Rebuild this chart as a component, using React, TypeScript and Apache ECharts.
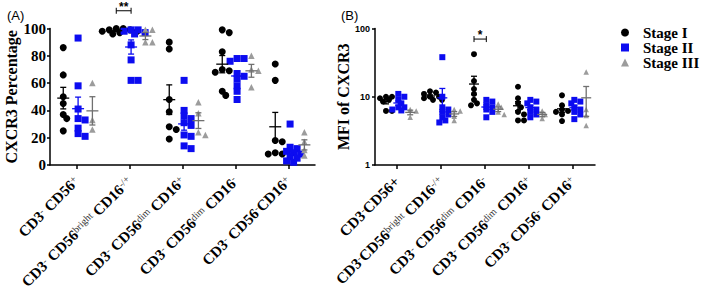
import React, { useEffect, useRef } from 'react';
import * as echarts from 'echarts';

// ---------- Data ----------
const STAGES = ['Stage I', 'Stage II', 'Stage III'];

const categoriesA = [
  'CD3{s|-} CD56{s|+}',
  'CD3{s|-} CD56{s|bright} CD16{s|-/+}',
  'CD3{s|-} CD56{s|dim} CD16{s|+}',
  'CD3{s|-} CD56{s|dim} CD16{s|-}',
  'CD3{s|-} CD56{s|-}CD16{s|+}',
];
const categoriesB = [
  'CD3{s|-}CD56+',
  'CD3{s|-}CD56{s|bright} CD16{s|-/+}',
  'CD3{s|-} CD56{s|dim} CD16{s|-}',
  'CD3{s|-} CD56{s|dim} CD16{s|+}',
  'CD3{s|-} CD56{s|-} CD16{s|+}',
];

// Panel A: CXCR3 percentage
const pctStageI = [
  [86, 66, 50, 45, 37, 34, 25],
  [100, 100, 99, 99, 98, 98, 97, 96],
  [90, 85, 48, 39, 28, 26, 19],
  [99, 97, 83, 70, 69, 68, 54, 51],
  [74, 62, 18, 17, 9, 8, 8],
];
const pctStageII = [
  [93, 58, 41, 34, 33, 27, 23, 21],
  [99, 99, 98, 97, 96, 88, 77, 62, 62],
  [62, 40, 36, 34, 31, 29, 22, 21, 14, 12],
  [78, 78, 76, 67, 65, 63, 58, 54, 48],
  [30, 13, 12, 10, 9, 8, 6, 5, 3, 2],
];
const pctStageIII = [
  [60, 33, 26],
  [99, 99, 90, 90],
  [46, 38, 24, 22],
  [80, 70, 69, 57],
  [24, 17, 11, 7],
];

// Panel B: MFI of CXCR3
const mfiStageI = [
  [10, 10, 9.5, 9, 8.5, 6.2, 6.2],
  [12, 11.5, 11, 10, 10, 9.5, 9, 9],
  [42, 17, 13, 11, 9, 8, 7.5],
  [14, 9.5, 8, 7, 6, 5.5, 4.5, 4.5],
  [10.5, 7.5, 6.5, 6.2, 6, 5.5, 4.4],
];
const mfiStageII = [
  [11, 10, 9, 8, 7, 7, 6.5, 6.3],
  [38, 10, 7, 6.5, 6, 5.5, 5, 4.5, 4.2],
  [9, 8.5, 7.5, 7, 6.5, 6, 5],
  [9, 8.5, 8, 7, 6.5, 6, 5.5, 5],
  [9, 8.5, 8, 7, 6.5, 6, 5.5, 4.7],
];
const mfiStageIII = [
  [6.5, 6.2, 5.0],
  [6.5, 6.2, 5.2, 4.5],
  [7.8, 7, 6, 5.5],
  [6.2, 5.5, 4.8],
  [23, 6.5, 5.3, 3.8],
];

const yTicksA = [0, 20, 40, 60, 80, 100];
const yTicksB = [1, 10, 100];

// significance brackets: category, from stage, to stage, level (axis value), text
const sigA = [{ cat: 1, from: 0, to: 1, level: 113, text: '**' }];
const sigB = [{ cat: 2, from: 0, to: 1, level: 70, text: '*' }];

// ---------- Style ----------
const COLORS = ['#000000', '#0c0cf0', '#9c9c9c'];
const BAR_COLORS = ['#000000', '#0c0cf0', '#707070'];
const SYMBOLS = ['circle', 'rect', 'triangle'];
const GROUP_OFFSET = [-0.25, 0.03, 0.3];
const SERIF = 'Liberation Serif';

function mean(a: number[]) {
  return a.reduce((s, v) => s + v, 0) / a.length;
}
function sem(a: number[]) {
  const m = mean(a);
  const v = a.reduce((s, x) => s + (x - m) * (x - m), 0) / (a.length - 1);
  return Math.sqrt(v) / Math.sqrt(a.length);
}

// simple beeswarm: horizontal offsets (axis units) so that markers do not pile up
function swarm(values: number[], toPx: (v: number) => number, pxPerUnit: number, diam: number) {
  const order = values.map((_, i) => i).sort((a, b) => values[b] - values[a]);
  const placed: { x: number; y: number }[] = [];
  const out = new Array(values.length).fill(0);
  const step = diam * 0.5;
  for (const i of order) {
    const y = toPx(values[i]);
    let chosen = 0;
    for (let k = 0; k < 30; k++) {
      const cand = k === 0 ? 0 : (k % 2 === 1 ? 1 : -1) * Math.ceil(k / 2) * step;
      if (placed.every((p) => Math.hypot(p.x - cand, p.y - y) >= diam * 0.7)) {
        chosen = cand;
        break;
      }
    }
    placed.push({ x: chosen, y });
    out[i] = chosen / pxPerUnit;
  }
  return out;
}

function buildPanel(opts: {
  gi: number;
  stages: number[][][];
  toPx: (v: number) => number;
  pxPerUnit: number;
  diam: number;
  meanHalf: number;
  capHalf: number;
  floor: number;
  sig: { cat: number; from: number; to: number; level: number; text: string }[];
}) {
  const series: any[] = [];
  const xIdx = opts.gi * 2;
  const yIdx = opts.gi;
  opts.stages.forEach((groups, s) => {
    const data: number[][] = [];
    groups.forEach((vals, k) => {
      const jit = swarm(vals, opts.toPx, opts.pxPerUnit, opts.diam);
      vals.forEach((v, i) => data.push([k + 0.5 + GROUP_OFFSET[s] + jit[i], v]));
    });
    series.push({
      type: 'scatter',
      name: STAGES[s],
      xAxisIndex: xIdx,
      yAxisIndex: yIdx,
      symbol: SYMBOLS[s],
      symbolSize: s === 2 ? opts.diam - 0.5 : opts.diam,
      itemStyle: { color: COLORS[s], opacity: 1 },
      data,
      z: 2,
    });
  });
  const stats: number[][] = [];
  opts.stages.forEach((groups, s) => {
    groups.forEach((vals, k) => {
      stats.push([k + 0.5 + GROUP_OFFSET[s], mean(vals), sem(vals), s]);
    });
  });
  series.push({
    type: 'custom',
    xAxisIndex: xIdx,
    yAxisIndex: yIdx,
    encode: { x: 0, y: 1 },
    clip: false,
    z: 3,
    silent: true,
    data: stats,
    renderItem: (_p: any, api: any) => {
      const x = api.value(0);
      const m = api.value(1);
      const se = api.value(2);
      const s = api.value(3);
      const c = api.coord([x, m]);
      const top = api.coord([x, m + se]);
      const bot = api.coord([x, Math.max(m - se, opts.floor)]);
      const style = { stroke: BAR_COLORS[s], lineWidth: 1.3 };
      const hw = opts.meanHalf;
      const cw = opts.capHalf;
      return {
        type: 'group',
        children: [
          { type: 'line', shape: { x1: c[0] - hw, y1: c[1], x2: c[0] + hw, y2: c[1] }, style },
          { type: 'line', shape: { x1: c[0], y1: top[1], x2: c[0], y2: bot[1] }, style },
          { type: 'line', shape: { x1: c[0] - cw, y1: top[1], x2: c[0] + cw, y2: top[1] }, style },
          { type: 'line', shape: { x1: c[0] - cw, y1: bot[1], x2: c[0] + cw, y2: bot[1] }, style },
        ],
      };
    },
  });
  series.push({
    type: 'custom',
    xAxisIndex: xIdx,
    yAxisIndex: yIdx,
    encode: { x: 0, y: 2 },
    clip: false,
    silent: true,
    z: 3,
    data: opts.sig.map((b) => [b.cat + 0.5 + GROUP_OFFSET[b.from], b.cat + 0.5 + GROUP_OFFSET[b.to], b.level]),
    renderItem: (p: any, api: any) => {
      const a = api.coord([api.value(0), api.value(2)]);
      const b = api.coord([api.value(1), api.value(2)]);
      const style = { stroke: '#000', lineWidth: 1 };
      return {
        type: 'group',
        children: [
          { type: 'line', shape: { x1: a[0], y1: a[1], x2: b[0], y2: b[1] }, style },
          { type: 'line', shape: { x1: a[0], y1: a[1] - 3, x2: a[0], y2: a[1] + 3 }, style },
          { type: 'line', shape: { x1: b[0], y1: b[1] - 3, x2: b[0], y2: b[1] + 3 }, style },
          {
            type: 'text',
            x: (a[0] + b[0]) / 2,
            y: a[1] - 4,
            style: {
              text: opts.sig[p.dataIndex].text,
              align: 'center',
              verticalAlign: 'middle',
              font: 'bold 12px "Liberation Sans"',
              fill: '#000',
            },
          },
        ],
      };
    },
  });
  return series;
}

const catAxisLabel = {
  rotate: 45,
  interval: 0,
  margin: 14,
  color: '#000',
  fontFamily: SERIF,
  fontWeight: 'bold' as const,
  fontSize: 15,
  rich: {
    s: {
      fontSize: 10,
      fontFamily: SERIF,
      fontWeight: 'normal',
      color: '#333',
      verticalAlign: 'top',
    },
  },
};

export default function App() {
  const ref = useRef<HTMLDivElement>(null);
  useEffect(() => {
    document.body.style.margin = '0';
    if (!ref.current) return;
    const chart = echarts.init(ref.current, null, { renderer: 'svg' });

    const seriesA = buildPanel({
      gi: 0,
      stages: [pctStageI, pctStageII, pctStageIII],
      toPx: (v) => v * 1.365,
      pxPerUnit: 53,
      diam: 7,
      meanHalf: 6,
      capHalf: 3,
      floor: 0,
      sig: sigA,
    });
    const seriesB = buildPanel({
      gi: 1,
      stages: [mfiStageI, mfiStageII, mfiStageIII],
      toPx: (v) => Math.log10(v) * 68.25,
      pxPerUnit: 44,
      diam: 6,
      meanHalf: 5,
      capHalf: 3,
      floor: 1,
      sig: sigB,
    });

    const axisLine = { show: true, lineStyle: { color: '#000', width: 1.5 } };
    const option: any = {
      animation: false,
      title: [
        { text: '(A)', left: 2, top: 4, textStyle: { fontFamily: 'Liberation Sans', fontSize: 13, fontWeight: 'normal', color: '#000' } },
        { text: '(B)', left: 336, top: 4, textStyle: { fontFamily: 'Liberation Sans', fontSize: 13, fontWeight: 'normal', color: '#000' } },
      ],
      legend: {
        orient: 'vertical',
        left: 616,
        top: 20,
        itemWidth: 8,
        itemHeight: 8,
        itemGap: 0,
        data: STAGES,
        textStyle: { fontFamily: SERIF, fontWeight: 'bold', fontSize: 15, color: '#000', lineHeight: 15, padding: [0, 0, 0, 9] },
      },
      grid: [
        { left: 50, top: 28.5, width: 265, height: 136.5, outerBoundsMode: 'none', containLabel: false },
        { left: 375, top: 28.5, width: 220, height: 136.5, outerBoundsMode: 'none', containLabel: false },
      ],
      xAxis: [
        { type: 'value', gridIndex: 0, min: 0, max: 5, show: false, position: 'bottom' },
        {
          type: 'category',
          gridIndex: 0,
          position: 'bottom',
          data: categoriesA,
          boundaryGap: true,
          axisLine,
          axisTick: { show: true, alignWithLabel: true, length: 4, lineStyle: { color: '#000', width: 1.5 } },
          axisLabel: catAxisLabel,
          splitLine: { show: false },
        },
        { type: 'value', gridIndex: 1, min: 0, max: 5, show: false, position: 'bottom' },
        {
          type: 'category',
          gridIndex: 1,
          position: 'bottom',
          data: categoriesB,
          boundaryGap: true,
          axisLine,
          axisTick: { show: true, alignWithLabel: true, length: 4, lineStyle: { color: '#000', width: 1.5 } },
          axisLabel: catAxisLabel,
          splitLine: { show: false },
        },
      ],
      yAxis: [
        {
          type: 'value',
          gridIndex: 0,
          min: yTicksA[0],
          max: yTicksA[yTicksA.length - 1],
          interval: yTicksA[1] - yTicksA[0],
          name: 'CXCR3 Percentage',
          nameLocation: 'middle',
          nameGap: 22,
          nameTextStyle: { fontFamily: SERIF, fontWeight: 'bold', fontSize: 16, color: '#000' },
          axisLine,
          axisTick: { show: true, length: 3, lineStyle: { color: '#000', width: 1.5 } },
          axisLabel: { margin: 4, color: '#000', fontFamily: SERIF, fontWeight: 'bold', fontSize: 15 },
          splitLine: { show: false },
        },
        {
          type: 'log',
          gridIndex: 1,
          logBase: 10,
          min: yTicksB[0],
          max: yTicksB[yTicksB.length - 1],
          name: 'MFI of CXCR3',
          nameLocation: 'middle',
          nameGap: 16,
          nameTextStyle: { fontFamily: SERIF, fontWeight: 'bold', fontSize: 16, color: '#000' },
          axisLine,
          axisTick: { show: true, length: 3, lineStyle: { color: '#000', width: 1.5 } },
          minorTick: { show: false },
          axisLabel: { margin: 5, color: '#000', fontFamily: 'Liberation Sans', fontWeight: 'bold', fontSize: 9 },
          splitLine: { show: false },
        },
      ],
      series: [...seriesA, ...seriesB],
    };
    chart.setOption(option);
    return () => chart.dispose();
  }, []);
  return <div ref={ref} style={{ width: 702, height: 291 }} />;
}
